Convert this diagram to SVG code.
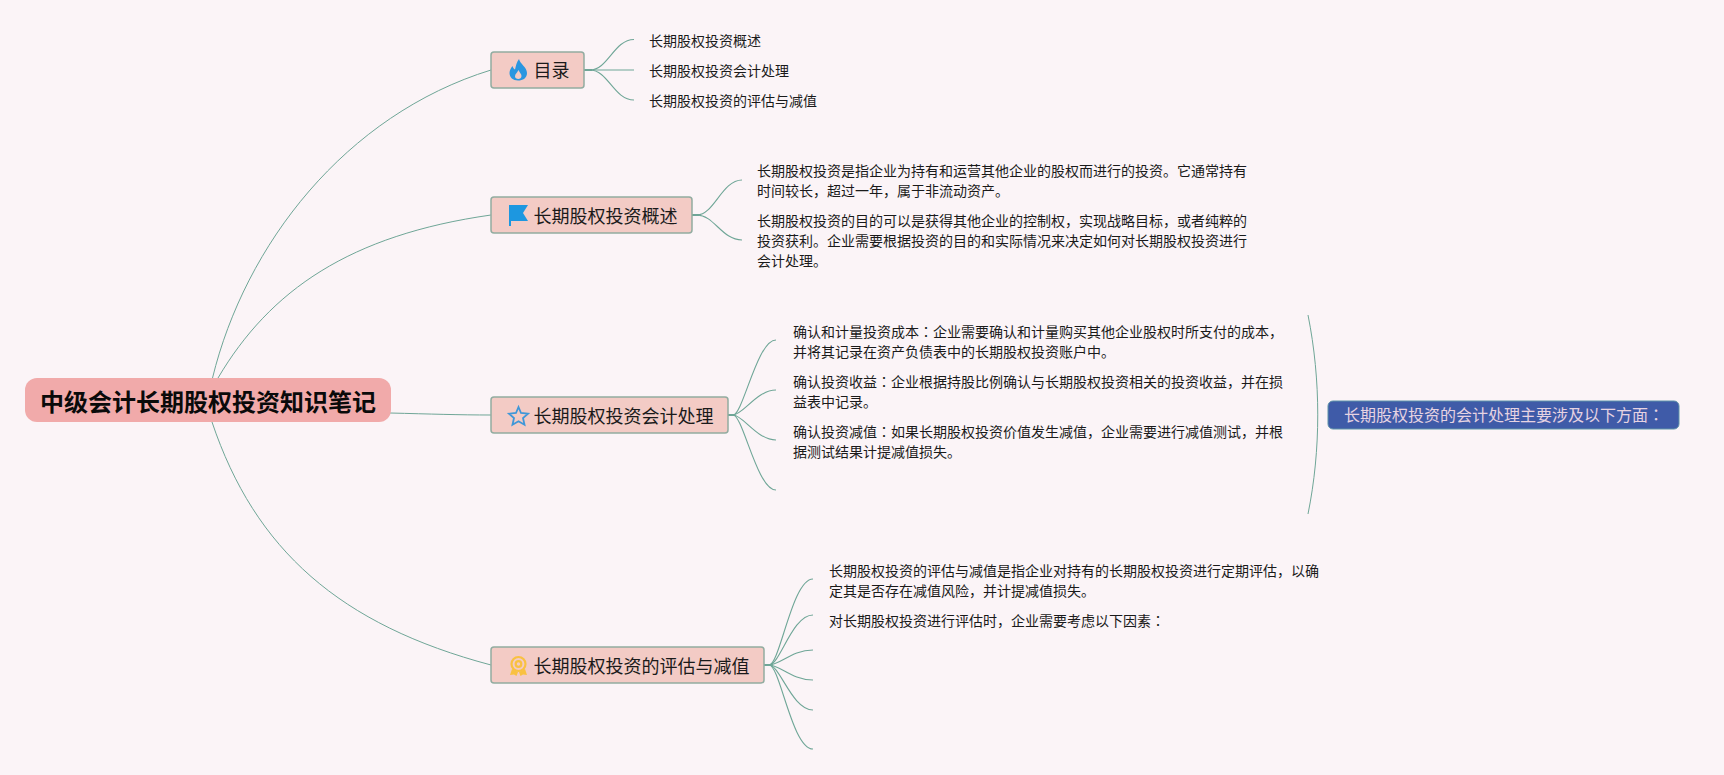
<svg xmlns="http://www.w3.org/2000/svg" width="1724" height="775" viewBox="0 0 1724 775">
<style>
text{font-family:"Noto Sans CJK SC","Noto Sans CJK JP",sans-serif;fill:#1a1a1a}
.root{font-size:24px;font-weight:700;fill:#0a0a0a}
.topic{font-size:18px}
.sub{font-size:14px}
.float{font-size:16px;fill:#e6d3e2}
.tb{fill:#f3cbc5;stroke:#92aca0;stroke-width:1.500}
.c{fill:none;stroke:#6fa697;stroke-width:1.100}
.c2{fill:none;stroke:#6fa697;stroke-width:1}
.stub{fill:none;stroke:#6fa697;stroke-width:2}
.colon{font-family:"Noto Sans CJK JP",sans-serif}
</style>
<rect width="1724" height="775" fill="#fbf4f7"/>
<g id="connectors">
<path class="c2" d="M212.500 378C245 245 345 115 491 70"/>
<path class="c2" d="M218 378C270 290 350 235 491 215"/>
<path class="c2" d="M390 413C430 414 460 415 491 415"/>
<path class="c2" d="M212 422C255 550 340 625 491 665"/>
<path class="stub" d="M584 70H592M692 215H699M728 415H735M764 665H771"/>
<path class="c" d="M590 70C608 70 614 39.500 634 39.500"/>
<path class="c" d="M590 70H634"/>
<path class="c" d="M590 70C608 70 614 100 634 100"/>
<path class="c" d="M697 215C714 215 722 180 742 180"/>
<path class="c" d="M697 215C714 215 722 240 742 240"/>
<path class="c" d="M733 415C743 415 757 340 776 340"/>
<path class="c" d="M733 415C743 415 757 390 776 390"/>
<path class="c" d="M733 415C743 415 757 440 776 440"/>
<path class="c" d="M733 415C743 415 757 490 776 490"/>
<path class="c" d="M769 665C780 665 792 579 813 579"/>
<path class="c" d="M769 665C780 665 792 615 813 615"/>
<path class="c" d="M769 665C780 665 792 650 813 650"/>
<path class="c" d="M769 665C780 665 792 680 813 680"/>
<path class="c" d="M769 665C780 665 792 710 813 710"/>
<path class="c" d="M769 665C780 665 792 749 813 749"/>
<path class="c2" d="M1308 315C1321 380 1321 450 1308 514"/>
</g>
<g id="root">
<rect x="25" y="378" width="366" height="44" rx="12" fill="#f1aaaa"/>
<text class="root" x="208" y="410.500" text-anchor="middle">中级会计长期股权投资知识笔记</text>
</g>
<g id="topic-1">
<rect class="tb" x="491" y="52" width="93" height="36" rx="3"/>
<path d="M519 59C520 64 527 67 527 73C527 78 523 80.500 518 80.500C513 80.500 509.500 77.500 509.500 73C509.500 70 511 68 512.500 66C513 68 514 69 515 69.500C516 66 516.500 62 519 59ZM518.500 70C517 73 515 74 515 76.500C515 78 516.500 79 518.300 79C520 79 521.500 78 521.500 76C521.500 74 519.500 72.500 518.500 70Z" fill="#2a96e0" fill-rule="evenodd"/>
<text class="topic" x="533.500" y="77">目录</text>
</g>
<g id="topic-2">
<rect class="tb" x="491" y="197" width="201" height="36" rx="3"/>
<path d="M509 205H528L523 213L528 221H511V226L509 226Z" fill="#1d97e0"/>
<text class="topic" x="533.500" y="223">长期股权投资概述</text>
</g>
<g id="topic-3">
<rect class="tb" x="491" y="397" width="237" height="36" rx="3"/>
<path d="M518.500 407L521 413L528 413.700L523 418L524.500 424.800L518.500 421.300L512.500 424.800L514 418L509 413.700L516 413Z" fill="none" stroke="#3f97d8" stroke-width="1.800"/>
<text class="topic" x="533.500" y="423">长期股权投资会计处理</text>
</g>
<g id="topic-4">
<rect class="tb" x="491" y="647" width="273" height="36" rx="3"/>
<g fill="none" stroke="#f9c141" stroke-width="2.200"><circle cx="518.500" cy="664" r="7"/><circle cx="518.500" cy="664" r="2.800"/></g>
<path d="M512 669L510 675L514 674.500L516.500 676L518 672ZM525 669L527 675L523 674.500L520.500 676L519 672Z" fill="#f9c141"/>
<text class="topic" x="533.500" y="673">长期股权投资的评估与减值</text>
</g>
<g id="sub-1">
<text class="sub" x="649" y="46">长期股权投资概述</text>
<text class="sub" x="649" y="76">长期股权投资会计处理</text>
<text class="sub" x="649" y="106">长期股权投资的评估与减值</text>
</g>
<g id="sub-2">
<text class="sub" x="757" y="176">长期股权投资是指企业为持有和运营其他企业的股权而进行的投资。它通常持有</text>
<text class="sub" x="757" y="196">时间较长，超过一年，属于非流动资产。</text>
<text class="sub" x="757" y="226">长期股权投资的目的可以是获得其他企业的控制权，实现战略目标，或者纯粹的</text>
<text class="sub" x="757" y="246">投资获利。企业需要根据投资的目的和实际情况来决定如何对长期股权投资进行</text>
<text class="sub" x="757" y="266">会计处理。</text>
</g>
<g id="sub-3">
<text class="sub" x="793" y="337">确认和计量投资成本<tspan class="colon">：</tspan>企业需要确认和计量购买其他企业股权时所支付的成本，</text>
<text class="sub" x="793" y="357">并将其记录在资产负债表中的长期股权投资账户中。</text>
<text class="sub" x="793" y="387">确认投资收益<tspan class="colon">：</tspan>企业根据持股比例确认与长期股权投资相关的投资收益，并在损</text>
<text class="sub" x="793" y="407">益表中记录。</text>
<text class="sub" x="793" y="437">确认投资减值<tspan class="colon">：</tspan>如果长期股权投资价值发生减值，企业需要进行减值测试，并根</text>
<text class="sub" x="793" y="457">据测试结果计提减值损失。</text>
</g>
<g id="sub-4">
<text class="sub" x="829" y="576">长期股权投资的评估与减值是指企业对持有的长期股权投资进行定期评估，以确</text>
<text class="sub" x="829" y="596">定其是否存在减值风险，并计提减值损失。</text>
<text class="sub" x="829" y="626">对长期股权投资进行评估时，企业需要考虑以下因素<tspan class="colon">：</tspan></text>
</g>
<g id="summary">
<rect x="1328" y="401" width="351" height="28" rx="5" fill="#3f5ba8" stroke="#5f93a8" stroke-width="1"/>
<text class="float" x="1344" y="421">长期股权投资的会计处理主要涉及以下方面<tspan class="colon">：</tspan></text>
</g>
</svg>
